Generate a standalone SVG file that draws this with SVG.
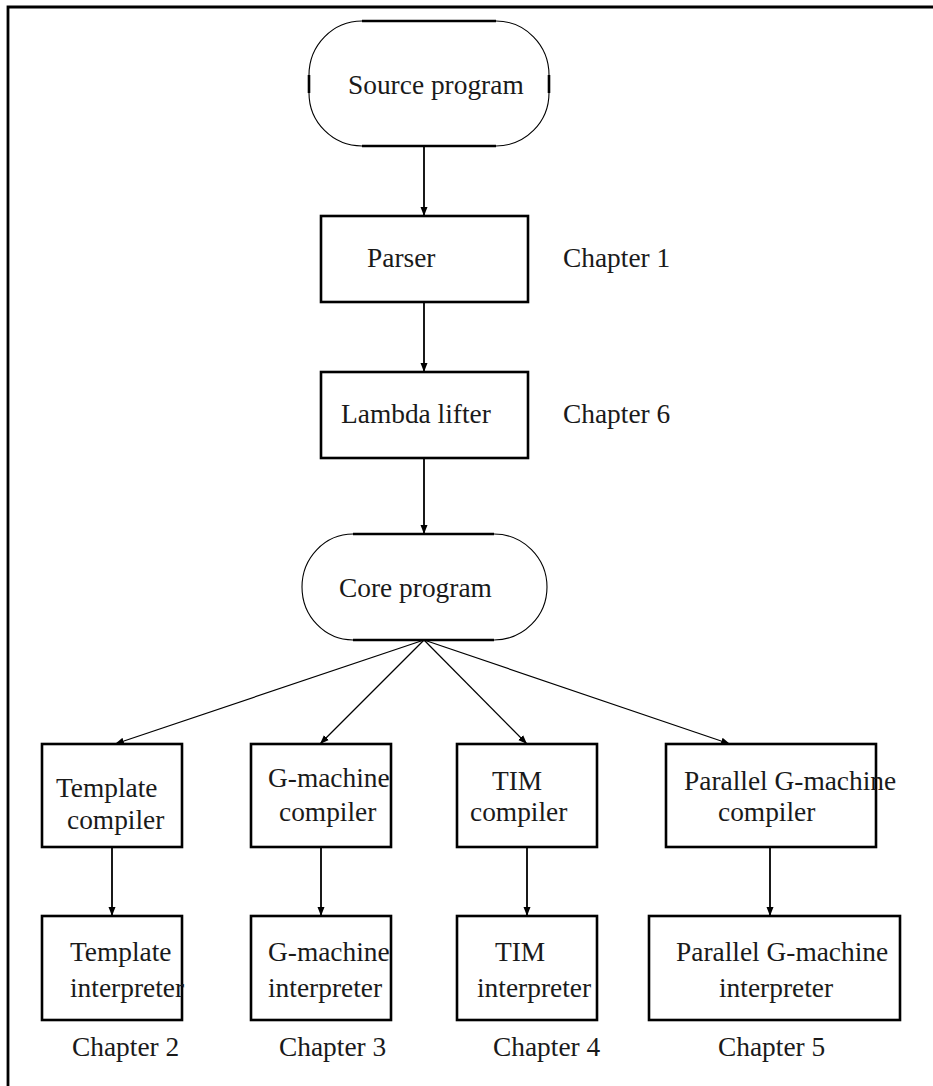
<svg xmlns="http://www.w3.org/2000/svg" width="933" height="1086" viewBox="0 0 933 1086">
<style>
  text { font-family: "Liberation Serif", "Times New Roman", serif; font-size: 27.4px; fill: #1a1a1a; }
  .box { fill: #fff; stroke: #000; stroke-width: 2.6; }
  .arc { fill: #fff; stroke: #000; stroke-width: 1.1; }
  .flat { fill: none; stroke: #000; stroke-width: 2.6; }
  .conn { stroke: #000; stroke-width: 1.8; fill: none; }
  .fan { stroke: #000; stroke-width: 1.2; fill: none; }
  .frame { stroke: #000; stroke-width: 2.8; fill: none; }
</style>
<defs>
  <marker id="ah" viewBox="0 0 9 8" refX="9" refY="4" markerWidth="9" markerHeight="8" markerUnits="userSpaceOnUse" orient="auto">
    <path d="M0,0.5 L9,4 L0,7.5 z" fill="#000"/>
  </marker>
</defs>
<rect width="933" height="1086" fill="#fff"/>
<g id="frame">
  <path class="frame" d="M8,1086 V7 H933"/>
</g>
<g id="connectors">
  <line class="conn" x1="424" y1="146" x2="424" y2="216" marker-end="url(#ah)"/>
  <line class="conn" x1="424" y1="302" x2="424" y2="372" marker-end="url(#ah)"/>
  <line class="conn" x1="424" y1="458" x2="424" y2="534" marker-end="url(#ah)"/>
  <line class="fan" x1="424" y1="640" x2="115" y2="744" marker-end="url(#ah)"/>
  <line class="fan" x1="424" y1="640" x2="320" y2="744" marker-end="url(#ah)"/>
  <line class="fan" x1="424" y1="640" x2="527" y2="744" marker-end="url(#ah)"/>
  <line class="fan" x1="424" y1="640" x2="730" y2="744" marker-end="url(#ah)"/>
  <line class="conn" x1="112" y1="847" x2="112" y2="916" marker-end="url(#ah)"/>
  <line class="conn" x1="321" y1="847" x2="321" y2="916" marker-end="url(#ah)"/>
  <line class="conn" x1="527" y1="847" x2="527" y2="916" marker-end="url(#ah)"/>
  <line class="conn" x1="770" y1="847" x2="770" y2="916" marker-end="url(#ah)"/>
</g>
<g id="source">
  <path class="arc" d="M362,21 H496 A53,54 0 0 1 549,75 V93 A53,53 0 0 1 496,146 H362 A53,53 0 0 1 309,93 V75 A53,54 0 0 1 362,21 Z"/>
  <path class="flat" d="M362,21 H496 M362,146 H496 M309,75 V93 M549,75 V93"/>
  <text x="348" y="94">Source program</text>
</g>
<g id="parser">
  <rect class="box" x="321" y="216" width="207" height="86"/>
  <text x="367" y="267">Parser</text>
</g>
<text x="563" y="267">Chapter 1</text>
<g id="lambda">
  <rect class="box" x="321" y="372" width="207" height="86"/>
  <text x="341" y="423">Lambda lifter</text>
</g>
<text x="563" y="423">Chapter 6</text>
<g id="core">
  <path class="arc" d="M353,534 H494 A53,53 0 0 1 494,640 H353 A51,53 0 0 1 353,534 Z"/>
  <path class="flat" d="M353,534 H494 M353,640 H494"/>
  <text x="339" y="597">Core program</text>
</g>
<g id="template-compiler">
  <rect class="box" x="42" y="744" width="140" height="103"/>
  <text x="56" y="797">Template</text>
  <text x="67" y="829">compiler</text>
</g>
<g id="gmachine-compiler">
  <rect class="box" x="251" y="744" width="140" height="103"/>
  <text x="268" y="787">G-machine</text>
  <text x="279" y="821">compiler</text>
</g>
<g id="tim-compiler">
  <rect class="box" x="457" y="744" width="140" height="103"/>
  <text x="492" y="790">TIM</text>
  <text x="470" y="821">compiler</text>
</g>
<g id="parallel-compiler">
  <rect class="box" x="666" y="744" width="210" height="103"/>
  <text x="684" y="790">Parallel G-machine</text>
  <text x="718" y="821">compiler</text>
</g>
<g id="template-interpreter">
  <rect class="box" x="42" y="916" width="140" height="104"/>
  <text x="70" y="961">Template</text>
  <text x="70" y="997">interpreter</text>
</g>
<g id="gmachine-interpreter">
  <rect class="box" x="251" y="916" width="140" height="104"/>
  <text x="268" y="961">G-machine</text>
  <text x="268" y="997">interpreter</text>
</g>
<g id="tim-interpreter">
  <rect class="box" x="457" y="916" width="140" height="104"/>
  <text x="495" y="961">TIM</text>
  <text x="477" y="997">interpreter</text>
</g>
<g id="parallel-interpreter">
  <rect class="box" x="649" y="916" width="251" height="104"/>
  <text x="676" y="961">Parallel G-machine</text>
  <text x="719" y="997">interpreter</text>
</g>
<text x="72" y="1056">Chapter 2</text>
<text x="279" y="1056">Chapter 3</text>
<text x="493" y="1056">Chapter 4</text>
<text x="718" y="1056">Chapter 5</text>
</svg>
